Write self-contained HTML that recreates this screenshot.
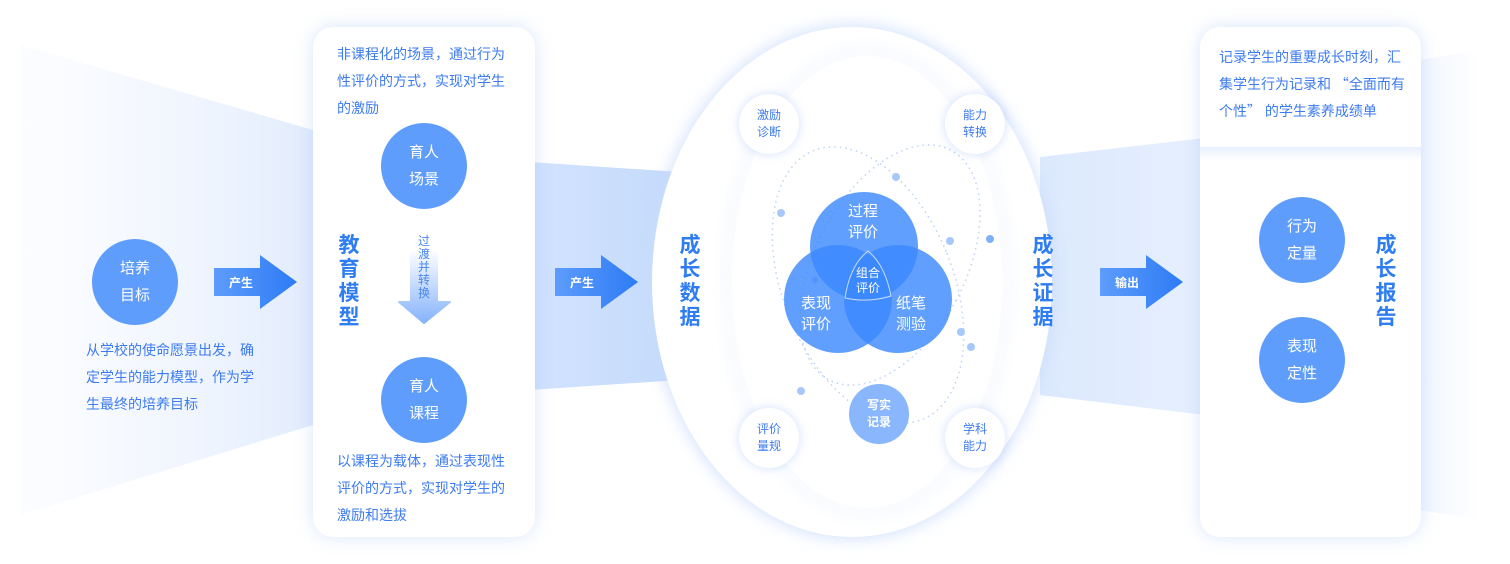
<!DOCTYPE html>
<html><head><meta charset="utf-8"><style>
*{margin:0;padding:0;box-sizing:border-box}
body{width:1510px;height:564px;background:#fff;position:relative;overflow:hidden;font-family:"Liberation Sans","Noto Sans CJK SC",sans-serif}
.abs{position:absolute}
.card{position:absolute;background:#fff;border-radius:20px;box-shadow:0 0 18px rgba(120,165,245,0.28)}
.txt{position:absolute;color:#3d7bf0;font-size:14px;line-height:27px}
.c{position:absolute;border-radius:50%;background:#5f9dfc;color:#fff;display:flex;align-items:center;justify-content:center;text-align:center;font-size:15px;line-height:27px}
.v{position:absolute;color:#2f7df3;font-weight:bold;font-size:21px;line-height:24px;width:24px;text-align:center}
.s{position:absolute;border-radius:50%;background:#fff;box-shadow:0 0 10px rgba(120,165,245,0.35);color:#3d7bf0;font-size:12px;line-height:17px;display:flex;align-items:center;justify-content:center;text-align:center}
.q{font-family:"Noto Sans CJK SC",sans-serif}
</style></head><body>
<svg class="abs" style="left:0;top:0" width="1510" height="564">
<defs>
<linearGradient id="lb" x1="0" x2="1"><stop offset="0" stop-color="#f4f8ff" stop-opacity="0.3"/><stop offset="1" stop-color="#e2ecfd"/></linearGradient>
<linearGradient id="mb" x1="0" x2="1"><stop offset="0" stop-color="#d2e3fd"/><stop offset="1" stop-color="#c4dafc"/></linearGradient>
<linearGradient id="rb" x1="0" x2="1"><stop offset="0" stop-color="#dce9fd"/><stop offset="1" stop-color="#e6effe"/></linearGradient>
<linearGradient id="fr" x1="0" x2="1"><stop offset="0" stop-color="#f2f6ff"/><stop offset="1" stop-color="#fff"/></linearGradient>
<linearGradient id="ar" x1="0" x2="1"><stop offset="0" stop-color="#5d9cfb"/><stop offset="1" stop-color="#2d7bf5"/></linearGradient>
<filter id="sh" x="-20%" y="-20%" width="140%" height="140%"><feGaussianBlur stdDeviation="9"/></filter>
</defs>
<path d="M20 45 L313 130 L313 425 L20 515 Z" fill="url(#lb)"/>
<path d="M530 162 L680 172 L680 380 L530 390 Z" fill="url(#mb)"/>
<path d="M1040 157 L1205 138 L1205 415 L1040 395 Z" fill="url(#rb)"/>
<path d="M1420 60 L1480 50 L1480 520 L1420 510 Z" fill="url(#fr)"/>
<ellipse cx="852" cy="282" rx="200" ry="255" fill="#c9dcfb" filter="url(#sh)"/>
<ellipse cx="852" cy="282" rx="200" ry="255" fill="#fff"/>
<ellipse cx="867" cy="282" rx="137" ry="228" fill="#fff" stroke="#e6eefc" stroke-width="6" filter="url(#sh)" opacity="0.9"/>
<ellipse cx="867" cy="282" rx="135" ry="226" fill="#fff"/>
<g fill="none" stroke="#bcd3f8" stroke-width="1.5" stroke-dasharray="1.5 4">
<ellipse cx="868" cy="285" rx="85" ry="145" transform="rotate(-22 868 285)"/>
<ellipse cx="890" cy="265" rx="75" ry="130" transform="rotate(28 890 265)"/>
</g>
<g fill="#a9c8fa"><circle cx="781" cy="213" r="4"/><circle cx="896" cy="177" r="4"/><circle cx="950" cy="241" r="4"/><circle cx="990" cy="239" r="4" fill="#7fb0fb"/><circle cx="815" cy="280" r="3"/><circle cx="961" cy="332" r="4"/><circle cx="971" cy="347" r="4"/><circle cx="801" cy="391" r="4"/></g>
<g>
<circle cx="864" cy="246" r="54" fill="#3a87ff" opacity="0.8"/>
<circle cx="838" cy="299" r="54" fill="#3a87ff" opacity="0.8"/>
<circle cx="898" cy="299" r="54" fill="#3a87ff" opacity="0.8"/>
<path d="M868 251 Q885 265 891 296 Q868 303 845 298 Q850 265 868 251 Z" fill="none" stroke="#c9dcff" stroke-width="1"/>
</g>
<path d="M214 268 H260 V255 L297 282 L260 309 V296 H214 Z" fill="url(#ar)"/>
<path d="M555 268 H601 V255 L638 282 L601 309 V296 H555 Z" fill="url(#ar)"/>
<path d="M1100 268 H1146 V255 L1183 282 L1146 309 V296 H1100 Z" fill="url(#ar)"/>
</svg>
<div class="abs" style="left:229px;top:274px;color:#fff;font-size:12px;font-weight:bold">产生</div>
<div class="abs" style="left:570px;top:274px;color:#fff;font-size:12px;font-weight:bold">产生</div>
<div class="abs" style="left:1115px;top:274px;color:#fff;font-size:12px;font-weight:bold">输出</div>

<div class="c" style="left:92px;top:239px;width:86px;height:86px">培养<br>目标</div>
<div class="txt" style="left:86px;top:337px;width:178px">从学校的使命愿景出发，确定学生的能力模型，作为学生最终的培养目标</div>

<div class="card" style="left:313px;top:27px;width:222px;height:510px"></div>
<svg class="abs" style="left:395px;top:245px" width="60" height="85">
<defs><linearGradient id="dn" x1="0" y1="0" x2="0" y2="1"><stop offset="0" stop-color="#fff"/><stop offset="1" stop-color="#86b3fc"/></linearGradient></defs>
<path d="M16 5 H42 V57 H55 L29 78 L4 57 H16 Z" fill="url(#dn)" stroke="url(#dn)" stroke-width="2" stroke-linejoin="round"/>
</svg>
<div class="txt" style="left:337px;top:41px;width:180px">非课程化的场景，通过行为性评价的方式，实现对学生的激励</div>
<div class="c" style="left:381px;top:123px;width:86px;height:86px">育人<br>场景</div>
<div class="v" style="left:337px;top:234px">教育模型</div>
<div class="abs" style="left:417px;top:235px;width:14px;color:#4a86ee;font-size:12px;line-height:13px;text-align:center">过渡并转换</div>
<div class="c" style="left:381px;top:357px;width:86px;height:86px">育人<br>课程</div>
<div class="txt" style="left:337px;top:448px;width:180px">以课程为载体，通过表现性评价的方式，实现对学生的激励和选拔</div>

<div class="v" style="left:678px;top:234px">成长数据</div>
<div class="v" style="left:1031px;top:234px">成长证据</div>
<div class="s" style="left:739px;top:94px;width:60px;height:60px">激励<br>诊断</div>
<div class="s" style="left:945px;top:94px;width:60px;height:60px">能力<br>转换</div>
<div class="s" style="left:739px;top:408px;width:60px;height:60px">评价<br>量规</div>
<div class="s" style="left:945px;top:408px;width:60px;height:60px">学科<br>能力</div>
<div class="c" style="left:849px;top:384px;width:60px;height:60px;background:#8ab6fd;font-size:12px;line-height:17px;font-weight:bold">写实<br>记录</div>
<div class="abs" style="left:833px;top:201px;width:60px;color:#fff;font-size:15px;line-height:21px;text-align:center">过程<br>评价</div>
<div class="abs" style="left:786px;top:293px;width:60px;color:#fff;font-size:15px;line-height:21px;text-align:center">表现<br>评价</div>
<div class="abs" style="left:881px;top:293px;width:60px;color:#fff;font-size:15px;line-height:21px;text-align:center">纸笔<br>测验</div>
<div class="abs" style="left:848px;top:266px;width:40px;color:#fff;font-size:12px;line-height:15px;text-align:center">组合<br>评价</div>

<div class="card" style="left:1200px;top:27px;width:221px;height:510px"></div>
<div class="abs" style="left:1200px;top:147px;width:221px;height:14px;background:linear-gradient(#e8f0fd,#fff)"></div>
<div class="txt" style="left:1219px;top:44px;width:192px">记录学生的重要成长时刻，汇<br>集学生行为记录和 <span class="q">“</span>全面而有<br>个性<span class="q">”</span> 的学生素养成绩单</div>
<div class="c" style="left:1259px;top:197px;width:86px;height:86px">行为<br>定量</div>
<div class="c" style="left:1259px;top:317px;width:86px;height:86px">表现<br>定性</div>
<div class="v" style="left:1374px;top:234px">成长报告</div>
</body></html>
